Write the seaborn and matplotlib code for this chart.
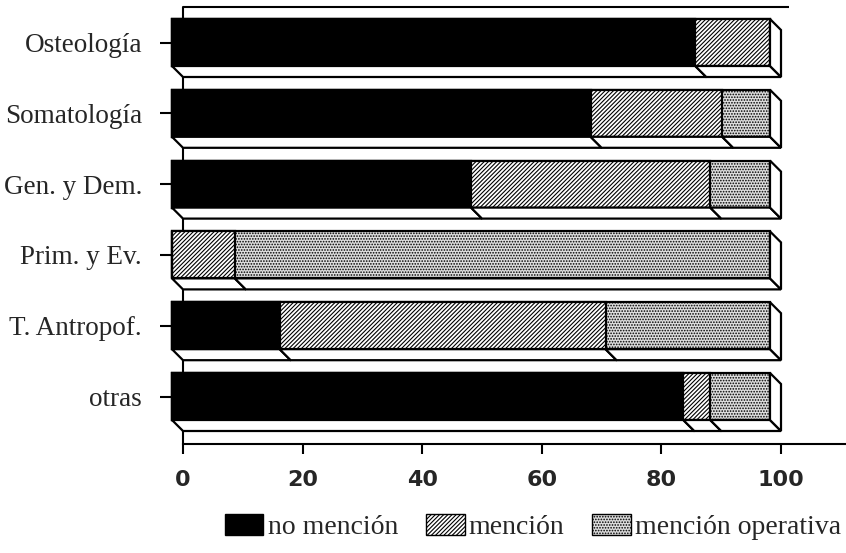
import matplotlib
matplotlib.use("Agg")
import matplotlib.pyplot as plt
from matplotlib.patches import Polygon, Patch
import seaborn as sns
import pandas as pd

categories = ["Osteología", "Somatología", "Gen. y Dem.", "Prim. y Ev.", "T. Antropof.", "otras"]
no_mencion = [87.5, 70.0, 50.0, 0.0, 18.0, 85.5]
mencion = [12.5, 22.0, 40.0, 10.5, 54.5, 4.5]
mencion_operativa = [0.0, 8.0, 10.0, 89.5, 27.5, 10.0]
series_names = ["no mención", "mención", "mención operativa"]
xticks = [0, 20, 40, 60, 80, 100]

sns.set_theme(style="white")
plt.rcParams["font.family"] = ["Liberation Serif", "DejaVu Serif"]
plt.rcParams["hatch.linewidth"] = 0.8
plt.rcParams["hatch.color"] = "black"

W, H = 846, 553
fig = plt.figure(figsize=(W / 100, H / 100), dpi=100)
ax_left, ax_right, ax_top, ax_bot = 183, 846, 7, 444
ax = fig.add_axes([ax_left / W, 1 - ax_bot / H, (ax_right - ax_left) / W, (ax_bot - ax_top) / H])

px_per_unit = (781 - 183) / 100.0
pitch = 70.8
front_c0 = 42.5
y_top = -(front_c0 - ax_top) / pitch
y_bot = (len(categories) - 1) + (ax_bot - (front_c0 + pitch * (len(categories) - 1))) / pitch
DX = 11 / px_per_unit
DY = 11 / pitch
BH = 47 / pitch

df = pd.DataFrame({
    "cat": categories,
    "c1": no_mencion,
    "c2": [a + b for a, b in zip(no_mencion, mencion)],
    "c3": [a + b + c for a, b, c in zip(no_mencion, mencion, mencion_operativa)],
})

dot_face = "#dedede"
DOTS = "......"
DIAG = "////////"
LW = 1.6
styles = [
    dict(col="c3", color=dot_face, hatch=DOTS),
    dict(col="c2", color="white", hatch=DIAG),
    dict(col="c1", color="black", hatch=None),
]
for st in styles:
    kw = dict(data=df, x=st["col"], y="cat", order=categories, orient="h",
              color=st["color"], saturation=1, width=BH, edgecolor="black",
              linewidth=LW, ax=ax)
    if st["hatch"]:
        kw["hatch"] = st["hatch"]
    sns.barplot(**kw)

for p in ax.patches:
    p.set_x(p.get_x() - DX)
    p.set_clip_on(False)
    p.set_zorder(2)

# depth faces (bottom and right side)
for i, cat in enumerate(categories):
    bounds = [0, no_mencion[i], no_mencion[i] + mencion[i],
              no_mencion[i] + mencion[i] + mencion_operativa[i]]
    yb = i + BH / 2
    yt = i - BH / 2
    for k in range(3):
        c0, c1 = bounds[k], bounds[k + 1]
        if c1 - c0 <= 0:
            continue
        poly = Polygon([(c0 - DX, yb), (c1 - DX, yb), (c1, yb + DY), (c0, yb + DY)],
                       closed=True, facecolor="white", edgecolor="black",
                       linewidth=LW, clip_on=False, zorder=2)
        ax.add_patch(poly)
    tot = bounds[-1]
    side = Polygon([(tot - DX, yt), (tot, yt + DY), (tot, yb + DY), (tot - DX, yb)],
                   closed=True, facecolor="white", edgecolor="black",
                   linewidth=LW, clip_on=False, zorder=2)
    ax.add_patch(side)

ax.set_xlim(0, (ax_right - ax_left) / px_per_unit)
ax.set_ylim(y_bot, y_top)

# back wall lines
ax.plot([0, (789 - 183) / px_per_unit], [y_top, y_top], color="black", lw=1.5,
        clip_on=False, zorder=1, solid_capstyle="butt")
ax.plot([0, 0], [y_top, y_bot], color="black", lw=1.5, clip_on=False, zorder=1)

for s in ["top", "right", "left"]:
    ax.spines[s].set_visible(False)
ax.spines["bottom"].set_color("black")
ax.spines["bottom"].set_linewidth(1.5)

ax.set_xticks(xticks)
ax.set_xticklabels([str(t) for t in xticks], fontfamily="DejaVu Sans",
                   fontweight="bold", fontsize=16)
ax.tick_params(axis="x", direction="out", length=7, width=1.5, color="black",
               pad=12, bottom=True)
ax.set_yticks(range(len(categories)))
ax.set_yticklabels(categories, fontsize=19.5)
ax.tick_params(axis="y", direction="out", length=16.5, width=1.5, color="black",
               pad=13, left=True)
ax.set_axisbelow(True)
ax.set_xlabel("")
ax.set_ylabel("")
ax.grid(False)

handles = [
    Patch(facecolor="black", edgecolor="black", linewidth=1.0),
    Patch(facecolor="white", edgecolor="black", hatch=DIAG, linewidth=1.0),
    Patch(facecolor=dot_face, edgecolor="black", hatch=DOTS, linewidth=1.0),
]
fig.legend(handles, series_names, loc="center", bbox_to_anchor=(533 / W, 1 - 527 / H),
           ncol=3, frameon=False, prop={"family": "Liberation Serif", "size": 20},
           handlelength=1.4, handleheight=0.8, handletextpad=0.15, columnspacing=1.0)

fig.savefig("out.png", dpi=100)
